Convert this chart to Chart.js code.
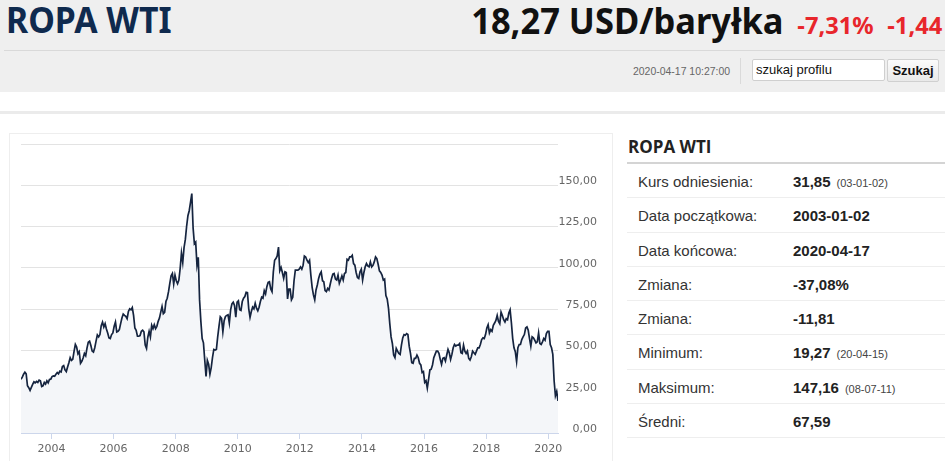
<!DOCTYPE html>
<html lang="pl">
<head>
<meta charset="utf-8">
<title>ROPA WTI</title>
<script src="https://cdn.jsdelivr.net/npm/chart.js@4.4.1/dist/chart.umd.min.js"></script>
<style>
  html, body { margin: 0; padding: 0; background: #fff; }
  body { width: 945px; height: 461px; position: relative; overflow: hidden; font-family: "Liberation Sans", Arial, sans-serif; }
  #top { position: absolute; left: 0; top: 0; width: 945px; height: 92px; background: #efefef; }
  .name { position: absolute; left: 6px; top: -4px; margin: 0; font: bold 35px "Noto Sans", sans-serif; color: #0f2a4e; transform-origin: left; transform: scaleX(0.965); white-space: nowrap; }
  .quote { position: absolute; right: 3px; top: -3px; white-space: nowrap; font-family: "Noto Sans", sans-serif; transform-origin: right; transform: scaleX(0.985); }
  .price { font-weight: bold; font-size: 35px; color: #111; }
  .chg { font-weight: bold; font-size: 24px; color: #e8262b; margin-left: 14px; }
  .rule { position: absolute; left: 4px; right: 0; top: 50px; height: 1px; background: #d9d9d9; }
  .stamp { position: absolute; left: 633px; top: 65px; font-size: 11px; color: #666; white-space: nowrap; transform-origin: left; transform: scaleX(0.95); }
  .sep { position: absolute; left: 740px; top: 58px; width: 1px; height: 26px; background: #dadada; }
  .search { position: absolute; left: 752px; top: 59px; width: 128px; height: 20px; border: 1px solid #cfcfcf; border-radius: 2px; background: #fff; font-size: 13px; color: #111; padding: 0 0 0 3px; line-height: 20px; }
  .btn { position: absolute; left: 887px; top: 59px; width: 52px; height: 23px; border: 1px solid #d0d0d0; border-radius: 2px; background: linear-gradient(#fbfbfb, #e9e9e9); font-weight: bold; font-size: 13px; color: #111; text-align: center; line-height: 22px; box-sizing: border-box; }
  .strip { position: absolute; left: 0; top: 111px; width: 945px; height: 3px; background: #ebebeb; }
  .panel { position: absolute; left: 9px; top: 133px; width: 604px; height: 340px; border: 1px solid #eeeeee; box-sizing: border-box; }
  #wrap { position: absolute; left: 9px; top: 133px; width: 600px; height: 328px; }
  .info { position: absolute; left: 627px; top: 133px; width: 318px; }
  .info h2 { margin: 0; height: 29px; padding-left: 1px; font: bold 17px "Open Sans", sans-serif; color: #222; line-height: 28px; border-bottom: 2px solid #d4d4d4; }
  .row { height: 34.3px; border-bottom: 1px solid #eeeeee; box-sizing: border-box; line-height: 36px; font-size: 15px; color: #333; position: relative; }
  .row .k { position: absolute; left: 11px; }
  .row .v { position: absolute; left: 166px; font-weight: bold; color: #222; }
  .row .v small { font-weight: normal; font-size: 11px; color: #444; margin-left: 6px; }
</style>
</head>
<body>
<div id="top">
  <h1 class="name">ROPA WTI</h1>
  <div class="quote"><span class="price">18,27 USD/baryłka</span><span class="chg">-7,31%</span><span class="chg">-1,44</span></div>
  <div class="rule"></div>
  <span class="stamp">2020-04-17 10:27:00</span>
  <span class="sep"></span>
  <div class="search">szukaj profilu</div>
  <div class="btn">Szukaj</div>
</div>
<div class="strip"></div>
<div class="panel"></div>
<div id="wrap"><canvas id="wti"></canvas></div>
<div class="info">
  <h2>ROPA WTI</h2>
  <div class="row"><span class="k">Kurs odniesienia:</span><span class="v">31,85<small>(03-01-02)</small></span></div>
  <div class="row"><span class="k">Data początkowa:</span><span class="v">2003-01-02</span></div>
  <div class="row"><span class="k">Data końcowa:</span><span class="v">2020-04-17</span></div>
  <div class="row"><span class="k">Zmiana:</span><span class="v">-37,08%</span></div>
  <div class="row"><span class="k">Zmiana:</span><span class="v">-11,81</span></div>
  <div class="row"><span class="k">Minimum:</span><span class="v">19,27<small>(20-04-15)</small></span></div>
  <div class="row"><span class="k">Maksimum:</span><span class="v">147,16<small>(08-07-11)</small></span></div>
  <div class="row"><span class="k">Średni:</span><span class="v">67,59</span></div>
</div>
<script>
// WTI, USD/barrel, two readings per month (first and second half)
const firstYear = 2003;
const wti2003 = [32.5, 33.8, 35.6, 36.8, 35.8, 28.6, 27.4, 25.8, 27.6, 29.4, 31.0, 30.4, 31.2, 30.6, 32.0, 31.6, 28.2, 28.6, 30.6, 29.6, 31.6, 30.4, 32.4, 32.6];
const wti2004 = [34.2, 34.6, 34.4, 35.6, 36.6, 35.8, 37.4, 37.0, 40.2, 40.8, 38.2, 37.2, 40.0, 42.6, 45.6, 44.0, 44.6, 49.4, 53.6, 52.0, 48.0, 49.2, 42.2, 43.4];
const wti2005 = [45.4, 48.2, 46.8, 51.4, 55.0, 55.6, 53.0, 49.6, 49.0, 51.6, 55.6, 59.4, 58.2, 59.6, 65.0, 67.2, 64.2, 66.2, 63.0, 60.6, 57.6, 57.2, 59.6, 60.6];
const wti2006 = [64.6, 67.2, 61.2, 61.6, 62.6, 66.2, 69.6, 72.0, 71.2, 70.6, 69.2, 73.6, 75.2, 74.6, 76.0, 71.2, 63.6, 62.2, 58.6, 58.6, 59.0, 61.6, 62.2, 61.2];
const wti2007 = [53.2, 51.2, 58.0, 61.6, 58.2, 65.2, 63.2, 65.6, 63.2, 64.6, 67.6, 69.6, 73.2, 76.6, 72.2, 73.0, 79.6, 81.6, 85.6, 90.6, 95.2, 96.6, 90.2, 95.6];
const wti2008 = [92.2, 90.4, 92.6, 99.6, 109.0, 103.2, 112.2, 117.2, 125.2, 131.6, 134.6, 139.6, 145.0, 124.2, 114.6, 115.6, 101.6, 106.4, 80.6, 67.6, 57.2, 54.6, 44.2, 34.2];
const wti2009 = [44.0, 41.6, 35.6, 39.6, 45.8, 50.6, 50.2, 50.6, 58.2, 64.6, 70.4, 69.4, 61.2, 68.0, 70.6, 71.2, 71.6, 66.6, 74.6, 78.2, 79.2, 77.2, 70.2, 79.2];
const wti2010 = [80.0, 74.6, 74.2, 79.6, 81.6, 82.6, 85.2, 85.0, 75.2, 70.0, 73.6, 76.2, 75.2, 78.6, 75.6, 74.0, 76.2, 79.6, 82.2, 81.6, 86.2, 84.2, 88.6, 91.2];
const wti2011 = [91.6, 87.2, 85.6, 97.6, 104.6, 105.6, 107.2, 112.6, 98.2, 100.2, 97.2, 93.6, 97.6, 97.2, 81.2, 87.2, 87.2, 80.6, 82.2, 92.2, 98.6, 98.6, 98.6, 99.2];
const wti2012 = [100.6, 99.2, 101.6, 107.2, 106.6, 104.6, 103.2, 104.6, 95.6, 88.2, 83.6, 80.6, 86.6, 89.6, 93.6, 96.2, 97.6, 92.2, 91.6, 86.2, 85.6, 87.6, 86.6, 90.2];
const wti2013 = [93.6, 96.2, 96.6, 93.2, 92.6, 95.6, 90.6, 92.8, 95.2, 92.6, 96.6, 97.2, 105.2, 104.6, 106.6, 106.6, 107.6, 102.6, 101.6, 97.2, 94.2, 93.6, 97.6, 99.2];
const wti2014 = [92.6, 97.2, 100.6, 102.6, 101.2, 100.6, 103.6, 100.6, 101.6, 103.6, 106.6, 105.6, 102.2, 98.2, 97.2, 95.6, 92.6, 93.2, 83.2, 81.2, 75.6, 66.2, 58.2, 54.2];
const wti2015 = [47.2, 45.6, 51.2, 49.6, 48.2, 47.6, 53.2, 57.6, 59.6, 59.2, 60.2, 59.6, 52.6, 48.2, 42.6, 42.2, 45.2, 45.2, 47.2, 45.6, 42.2, 41.2, 36.6, 37.2];
const wti2016 = [30.6, 31.6, 27.2, 32.6, 38.2, 38.6, 41.2, 45.6, 47.6, 49.6, 49.6, 48.2, 44.6, 41.6, 45.2, 45.6, 43.6, 47.2, 50.6, 48.6, 44.6, 47.6, 51.6, 53.6];
const wti2017 = [52.6, 53.2, 53.2, 54.2, 48.6, 48.2, 53.2, 49.6, 48.2, 49.6, 45.2, 44.2, 46.2, 49.6, 48.6, 47.6, 49.6, 51.6, 51.6, 53.6, 56.6, 57.6, 57.2, 59.6];
const wti2018 = [63.6, 65.6, 60.6, 62.6, 61.6, 65.2, 66.6, 68.2, 71.2, 67.6, 66.2, 73.2, 71.2, 68.6, 67.2, 69.2, 68.6, 72.6, 74.6, 66.6, 57.2, 51.6, 49.2, 43.2];
const wti2019 = [51.6, 53.6, 53.6, 56.6, 58.2, 59.6, 63.6, 64.2, 62.2, 57.2, 52.6, 58.2, 57.6, 56.2, 54.6, 55.2, 60.6, 54.2, 53.6, 55.2, 57.2, 56.2, 60.2, 61.6];
const wti2020 = [61.6, 53.6, 51.6, 47.6, 31.6, 22.6, 25.2, 19.4];

const tickYears = [2004, 2006, 2008, 2010, 2012, 2014, 2016, 2018, 2020];
const priceTicks = [0, 25, 50, 75, 100, 125, 150, 175];

const byYear = [wti2003, wti2004, wti2005, wti2006, wti2007, wti2008, wti2009, wti2010, wti2011,
  wti2012, wti2013, wti2014, wti2015, wti2016, wti2017, wti2018, wti2019, wti2020];

const points = [];
byYear.forEach((vals, i) => {
  vals.forEach((v, j) => {
    points.push({ x: firstYear + i + (j * 0.5 + 0.25) / 12, y: v });
  });
});

const fmt = (v) => v.toFixed(2).replace(".", ",");

new Chart(document.getElementById("wti").getContext("2d"), {
  type: "line",
  data: {
    datasets: [
      {
        data: points,
        borderColor: "#15243f",
        borderWidth: 1.7,
        backgroundColor: "#f4f6f9",
        fill: "origin",
        pointRadius: 0,
        tension: 0,
      },
    ],
  },
  options: {
    responsive: true,
    maintainAspectRatio: false,
    animation: false,
    parsing: false,
    layout: { padding: { left: 12, top: 11, right: 12, bottom: 0 } },
    plugins: { legend: { display: false }, tooltip: { enabled: false } },
    scales: {
      x: {
        type: "linear",
        min: points[0].x,
        max: points[points.length - 1].x,
        afterBuildTicks: (s) => {
          s.ticks = tickYears.map((v) => ({ value: v }));
        },
        afterFit: (s) => {
          s.height = 28;
        },
        ticks: {
          callback: (v) => String(v),
          font: { family: "DejaVu Sans", size: 11 },
          color: "#666",
          padding: 4,
          maxRotation: 0,
          autoSkip: false,
        },
        grid: { drawOnChartArea: false, tickLength: 6, color: "#ccd6eb" },
        border: { color: "#ccd6eb" },
      },
      y: {
        position: "right",
        min: 0,
        max: 175,
        afterBuildTicks: (s) => {
          s.ticks = priceTicks.map((v) => ({ value: v }));
        },
        afterFit: (s) => {
          s.width = 39;
        },
        ticks: {
          callback: (v) => (v === 175 ? "" : fmt(v)),
          font: { family: "DejaVu Sans", size: 11 },
          color: "#666",
          crossAlign: "far",
          labelOffset: -4,
          padding: 2,
        },
        grid: { color: "#e3e3e3", drawTicks: false },
        border: { display: false },
      },
    },
  },
});
</script>
</body>
</html>
